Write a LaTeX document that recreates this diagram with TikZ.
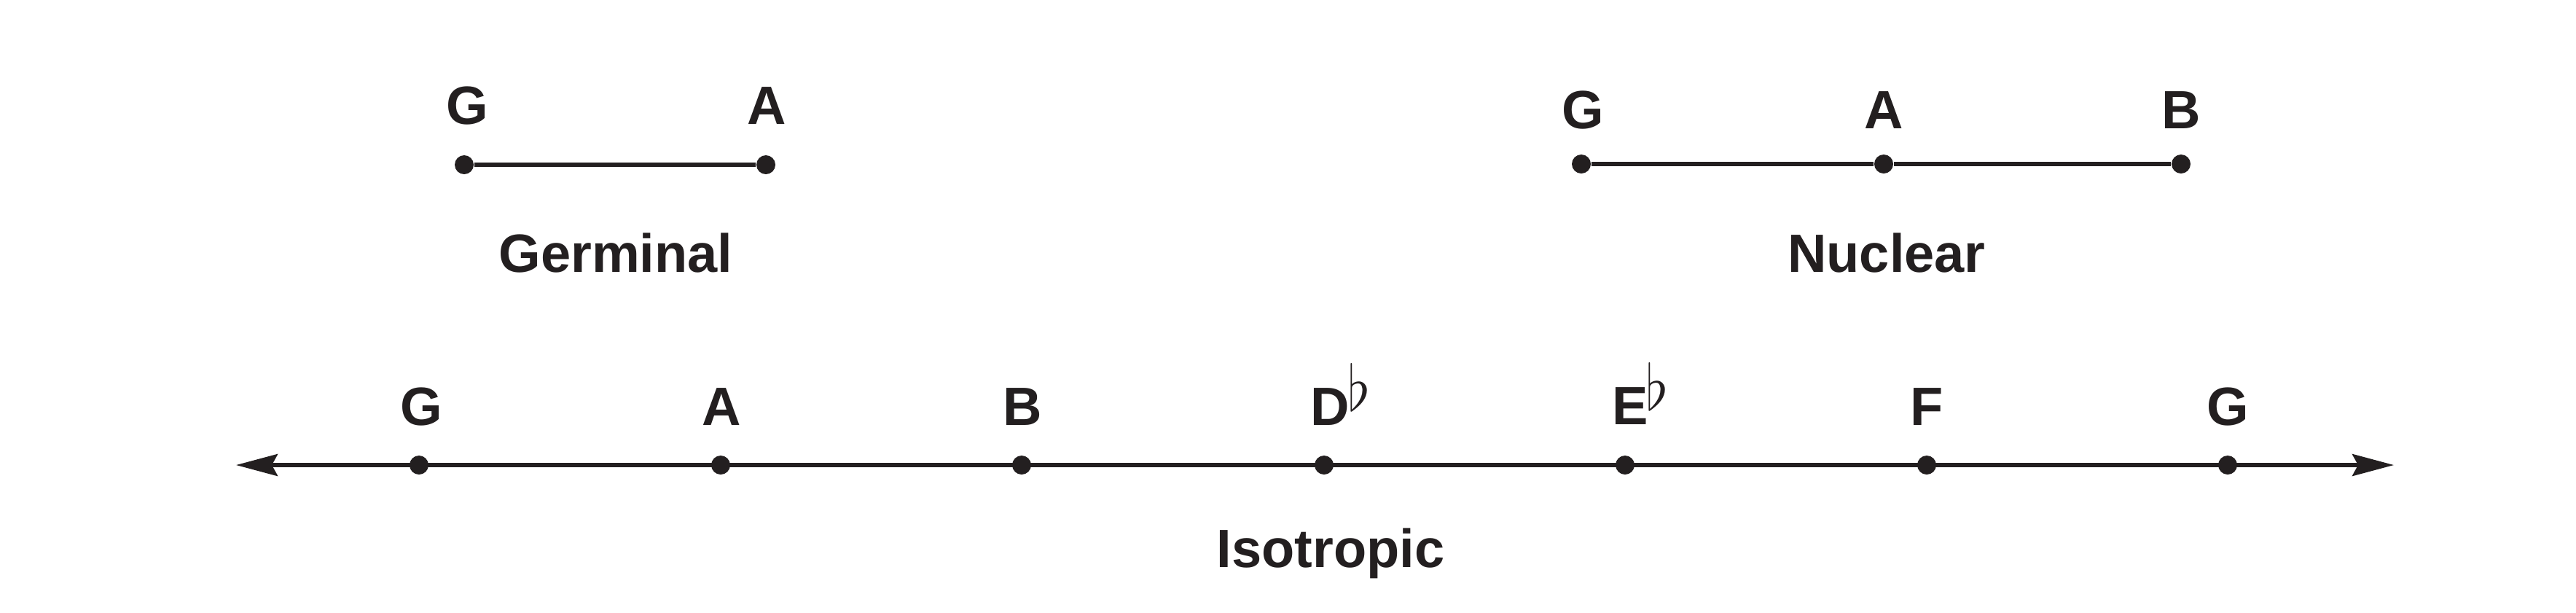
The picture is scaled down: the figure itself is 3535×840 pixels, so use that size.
\documentclass[tikz,border=0pt]{standalone}
\usepackage{fontspec}
\usepackage{graphicx}
\setmainfont{Liberation Sans}
\usetikzlibrary{arrows.meta}
\definecolor{ink}{HTML}{231F20}
\newcommand\myflat{\kern-0.8pt\raisebox{5pt}{\resizebox*{7.8pt}{16.25pt}{$\flat$}}}
\begin{document}
\begin{tikzpicture}[x=0.25pt,y=-0.25pt,
  dotnode/.style={circle,fill=ink,inner sep=0pt,minimum size=6.5pt},
  lbl/.style={anchor=base,inner sep=0pt,text=ink,font=\bfseries\fontsize{18.5}{22}\selectfont},
  lblw/.style={lbl,anchor=base west},
  conn/.style={draw=ink,line width=1.3pt},
  axis/.style={conn,{Stealth[length=14.25pt,width=7.5pt,inset=2pt]}-{Stealth[length=14.25pt,width=7.5pt,inset=2pt]}}]
\useasboundingbox (0,0) rectangle (3535,840);
% Germinal
\node[dotnode] (g1) at (637,226) {};
\node[dotnode] (g2) at (1051,226) {};
\draw[conn] (g1) -- (g2);
\node[lbl] (g1l) at (641,170) {G};
\node[lbl] (g2l) at (1052,170) {A};
\node[lbl] (gt) at (845,373) {Germinal};
% Nuclear
\node[dotnode] (n1) at (2170,225) {};
\node[dotnode] (n2) at (2585,225) {};
\node[dotnode] (n3) at (2993,225) {};
\draw[conn] (n1) -- (n2) -- (n3);
\node[lbl] (n1l) at (2172,176) {G};
\node[lbl] (n2l) at (2585,176) {A};
\node[lbl] (n3l) at (2993,176) {B};
\node[lbl] (nt) at (2589,373) {Nuclear};
% Isotropic
\coordinate (al) at (324,638);
\coordinate (ar) at (3285,638);
\draw[axis] (al) -- (ar);
\foreach \i/\x in {1/575,2/989,3/1402,4/1817,5/2230,6/2644,7/3057}
  \node[dotnode] (i\i) at (\x,638) {};
\node[lbl] (i1l) at (578,583) {G};
\node[lbl] (i2l) at (990,583) {A};
\node[lbl] (i3l) at (1403,583) {B};
\node[lblw] (i4l) at (1798,583) {D\myflat};
\node[lblw] (i5l) at (2212,582) {E\myflat};
\node[lbl] (i6l) at (2644,583) {F};
\node[lbl] (i7l) at (3057,583) {G};
\node[lbl] (it) at (1826,778) {Isotropic};
\end{tikzpicture}
\end{document}
